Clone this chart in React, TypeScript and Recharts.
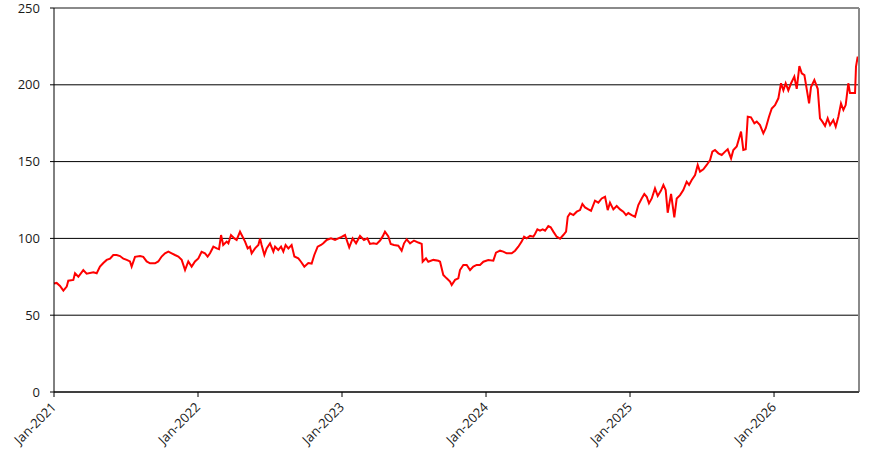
import React from "react";
import { LineChart, Line, XAxis, YAxis, CartesianGrid, ReferenceLine } from "recharts";

// months since Jan-2021
const months = [
  0, 0.22, 0.5, 0.78, 1.06, 1.19, 1.61, 1.75, 2.03, 2.44, 2.72, 3.28, 3.56, 3.83, 4.11, 4.39, 4.67, 4.94, 5.22, 5.5,
  5.78, 6.06, 6.33, 6.47, 6.75, 7.17, 7.44, 7.72, 8.0, 8.42, 8.69, 8.97, 9.25, 9.53, 9.81, 10.08, 10.36, 10.64, 10.92, 11.19,
  11.47, 11.75,
  12.03, 12.3, 12.58, 12.8, 13.0, 13.28, 13.56, 13.75, 13.92, 14.1, 14.39, 14.53, 14.75, 15.03, 15.22, 15.5, 15.64, 15.92,
  16.14, 16.33, 16.47, 16.75, 17.03, 17.17, 17.3, 17.53, 17.72, 18.0, 18.28, 18.42, 18.69, 18.92, 19.11, 19.3, 19.53, 19.8,
  20.03, 20.36, 20.58, 20.86, 21.19, 21.47, 21.69, 21.97, 22.25, 22.44, 22.72, 23.08, 23.42, 23.69,
  23.97, 24.25, 24.6, 24.89, 25.17, 25.5, 25.83, 26.11, 26.33, 26.61, 26.89, 27.17, 27.39, 27.58, 27.86, 28.06, 28.33, 28.69,
  28.97, 29.17, 29.39, 29.67, 30.0, 30.36, 30.64, 30.72, 31.0, 31.19, 31.61, 32.03, 32.17, 32.44, 32.72, 33.0, 33.14, 33.42,
  33.69, 33.83, 34.11, 34.39, 34.67, 34.94, 35.22, 35.5, 35.78,
  36.19, 36.61, 36.83, 37.17, 37.44, 37.72, 38.14, 38.42, 38.69, 38.97, 39.17, 39.39, 39.67, 39.94, 40.08, 40.28, 40.5, 40.72,
  40.92, 41.19, 41.39, 41.61, 41.89, 42.17, 42.44, 42.67, 42.81, 43.0, 43.28, 43.56, 43.83, 44.03, 44.25, 44.53, 44.75, 45.08,
  45.36, 45.64, 45.92, 46.14, 46.33, 46.61, 46.89, 47.17, 47.44, 47.67, 47.86,
  48.14, 48.42, 48.69, 48.97, 49.19, 49.39, 49.58, 49.81, 50.08, 50.31, 50.58, 50.78, 50.97, 51.14, 51.42, 51.69, 51.89, 52.17,
  52.44, 52.72, 52.92, 53.14, 53.42, 53.64, 53.83, 54.11, 54.39, 54.67, 54.86, 55.08, 55.36, 55.64, 55.92, 56.14, 56.42, 56.61,
  56.89, 57.25, 57.44, 57.64, 57.81, 58.08, 58.36, 58.56, 58.83, 59.11, 59.31, 59.58, 59.81,
  60.08, 60.36, 60.58, 60.78, 60.97, 61.19, 61.42, 61.69, 61.89, 62.11, 62.31, 62.53, 62.72, 62.92, 63.08, 63.36, 63.64, 63.83,
  64.03, 64.25, 64.47, 64.67, 64.94, 65.14, 65.36, 65.58, 65.78, 65.97, 66.19, 66.33, 66.61, 66.75, 66.83, 66.97, 67.08,
];

const prices = [
  70.7, 71, 69, 66, 68.6, 72.5, 73, 77.3, 75, 79.4, 77, 78, 77.3, 81.6, 84, 86, 86.8, 89.2, 89.2, 88.5,
  86.8, 86, 85, 81.6, 88, 88.5, 88, 85, 83.8, 83.8, 85, 88.2, 90.3, 91.4, 90.3, 89.2, 88.2, 86, 79.4, 85,
  81.6, 85,
  87, 91.3, 90.3, 88.2, 90.3, 94.6, 93.5, 93, 102.2, 95.7, 97.9, 96.8, 102.2, 100, 99, 104.4, 102.2, 97.9,
  93.5, 94.6, 90.3, 93.5, 95.7, 100, 95.7, 89.2, 93.5, 96.8, 91.4, 94.6, 92.5, 94.6, 91.4, 95.7, 93.5, 95.7,
  88.2, 87, 84.8, 81.6, 84, 83.6, 89.2, 94.6, 95.7, 96.8, 99, 100, 99, 100,
  101, 102.2, 94.2, 100, 96.8, 101.6, 99, 100, 96.4, 96.8, 96.4, 98.6, 101.3, 104.4, 101.3, 96.4, 95.7, 95.2,
  92, 96.8, 99.4, 96.8, 98.6, 97.3, 96.4, 84.8, 87, 84.8, 86, 85.4, 84.8, 76.2, 74, 71.9, 69.7, 73,
  74, 79.4, 82.7, 82.7, 79.4, 81.6, 82.7, 82.7, 84.8,
  85.9, 85.5, 90.7, 92, 91.4, 90.3, 90.3, 92, 94.6, 97.9, 101.1, 100, 101.6, 101.1, 102.9, 105.9, 105, 105.9,
  105, 108, 107.2, 104.4, 101.1, 99.8, 102.2, 104.4, 114.1, 116.3, 115.2, 117.4, 118.4, 122.4, 120.2, 118.9, 118, 124.6,
  123.3, 126, 127.1, 118.4, 123.3, 118.9, 121.1, 118.9, 117.4, 115.2, 116.5,
  115.2, 114.1, 121.7, 126, 128.9, 127.1, 122.8, 126, 132.6, 127.6, 131.1, 134.8, 131.5, 116.7, 128.9, 113.7, 126, 128.2,
  131.5, 136.9, 134.8, 138, 141.3, 147.8, 143.5, 145, 147.8, 151, 156.5, 157.6, 155.4, 154.3, 156.5, 158, 152.1, 157.6,
  159.8, 169.5, 157.6, 158, 179.2, 178.8, 174.9, 176, 173.8, 168.4, 171.7, 179.2, 184.6,
  186.8, 191.2, 201, 196.4, 201, 196.4, 201, 205.3, 197.4, 212.2, 207.4, 206.3, 197.4, 187.9, 198.5, 203.1, 197.4, 178.2,
  176, 173.2, 178.2, 173.8, 177.1, 172.7, 179.2, 187.9, 183.6, 186.8, 201, 194.6, 194.6, 194.6, 211.8, 218.3, 215,
];

const xTicks = [0, 12, 24, 36, 48, 60];
const xTickLabels = ["Jan-2021", "Jan-2022", "Jan-2023", "Jan-2024", "Jan-2025", "Jan-2026"];
const yTicks = [0, 50, 100, 150, 200, 250];
const xMax = 67.08;

const data = months.map((t, i) => ({ t, v: prices[i] }));

const FONT = "'Open Sans', sans-serif";

const XTick = (props: any) => {
  const { x, y, payload } = props;
  const idx = xTicks.indexOf(payload.value);
  const label = idx >= 0 ? xTickLabels[idx] : "";
  return (
    <g transform={`translate(${x + 3},${y + 11}) rotate(-45)`}>
      <text x={0} y={0} textAnchor="end" fontFamily={FONT} fontSize={13} fill="#1a1a1a">
        {label}
      </text>
    </g>
  );
};

export default function App() {
  return (
    <div style={{ position: "absolute", left: 0, top: 0, background: "#fff" }}>
      <LineChart width={883} height={467} data={data} margin={{ top: 8, right: 24, bottom: 0, left: 0 }}>
        <CartesianGrid vertical={false} stroke="#000" strokeWidth={1} />
        <XAxis
          dataKey="t"
          type="number"
          domain={[0, xMax]}
          ticks={xTicks}
          interval={0}
          height={75}
          stroke="#000"
          tickSize={5}
          tickMargin={0}
          tick={<XTick />}
        />
        <YAxis
          type="number"
          domain={[0, 250]}
          ticks={yTicks}
          interval={0}
          width={54}
          stroke="#000"
          tickSize={4}
          tickMargin={10}
          tick={{ fontFamily: FONT, fontSize: 13, fill: "#1a1a1a" }}
        />
        <Line
          type="linear"
          dataKey="v"
          stroke="#ff0000"
          strokeWidth={2}
          dot={false}
          isAnimationActive={false}
        />
        <ReferenceLine y={250} stroke="#8a8a8a" strokeWidth={2} />
        <ReferenceLine x={xMax} stroke="#8a8a8a" strokeWidth={2} />
      </LineChart>
    </div>
  );
}
